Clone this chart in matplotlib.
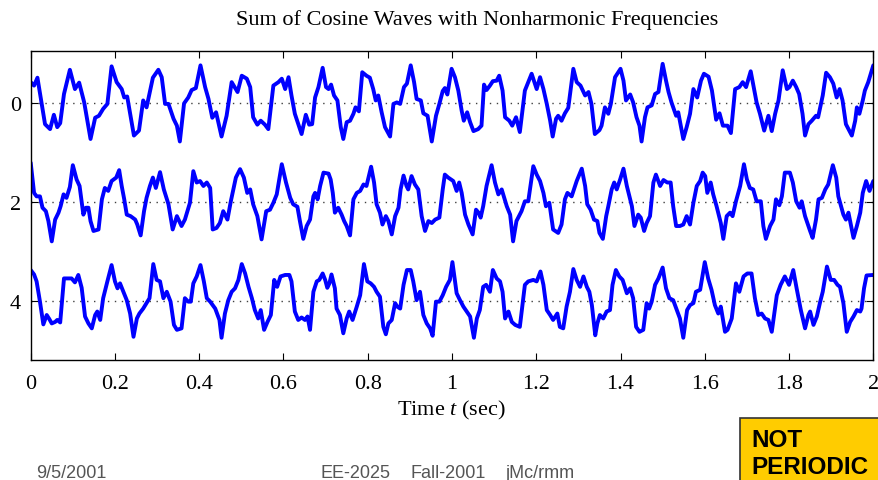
import numpy as np
import matplotlib
matplotlib.use("Agg")
import matplotlib.pyplot as plt
from matplotlib.patches import Rectangle

# --- text ---
title = "Sum of Cosine Waves with Nonharmonic Frequencies"
x_label = "Time $t$ (sec)"
footer_date = "9/5/2001"
footer_parts = ["EE-2025", "Fall-2001", "jMc/rmm"]
badge_lines = ["NOT", "PERIODIC"]

# --- axes ---
row_offsets = [0, 2, 4]
y_ticks = [0, 2, 4]
x_ticks = [0, 0.2, 0.4, 0.6, 0.8, 1.0, 1.2, 1.4, 1.6, 1.8, 2.0]
x_tick_labels = ["0", "0.2", "0.4", "0.6", "0.8", "1", "1.2", "1.4", "1.6", "1.8", "2"]

# --- strips: (time in s, signal value, up = positive) ---
row0 = [
    (0.000, 0.42), (0.008, 0.35), (0.016, 0.51), (0.026, -0.02), (0.034, -0.43), (0.046, -0.53),
    (0.055, -0.24), (0.063, -0.49), (0.070, -0.41), (0.079, 0.18), (0.093, 0.67), (0.105, 0.28),
    (0.115, 0.41), (0.127, 0.01), (0.142, -0.73), (0.153, -0.30), (0.162, -0.26), (0.172, -0.12),
    (0.182, -0.02), (0.192, 0.74), (0.204, 0.42), (0.216, 0.28), (0.222, 0.11), (0.229, 0.13),
    (0.237, -0.26), (0.245, -0.66), (0.257, -0.56), (0.267, 0.05), (0.275, -0.09), (0.290, 0.51),
    (0.303, 0.67), (0.311, 0.52), (0.319, -0.02), (0.327, -0.02), (0.339, -0.32), (0.347, -0.46),
    (0.354, -0.78), (0.364, -0.01), (0.374, 0.11), (0.382, 0.26), (0.392, 0.30), (0.403, 0.76),
    (0.414, 0.32), (0.422, 0.08), (0.431, -0.30), (0.440, -0.19), (0.453, -0.68), (0.465, -0.26),
    (0.477, 0.42), (0.491, 0.22), (0.501, 0.55), (0.513, 0.49), (0.521, 0.32), (0.528, -0.29),
    (0.538, -0.44), (0.546, -0.36), (0.556, -0.44), (0.564, -0.53), (0.576, 0.35), (0.588, 0.42),
    (0.596, 0.49), (0.604, 0.28), (0.612, 0.52), (0.619, 0.15), (0.627, -0.22), (0.643, -0.63),
    (0.653, -0.24), (0.661, -0.44), (0.668, -0.43),
    (0.675, 0.11), (0.683, 0.32), (0.693, 0.71), (0.701, 0.32), (0.707, 0.28), (0.713, 0.37),
    (0.720, 0.15), (0.728, 0.05), (0.736, -0.49), (0.742, -0.73), (0.750, -0.39), (0.758, -0.36),
    (0.766, -0.22), (0.771, -0.09), (0.779, -0.17), (0.787, 0.62), (0.797, 0.55), (0.805, 0.51),
    (0.813, 0.28), (0.819, 0.05), (0.825, 0.15), (0.833, -0.19), (0.841, -0.49), (0.853, -0.68),
    (0.861, -0.02), (0.869, 0.01), (0.877, -0.02), (0.886, 0.32), (0.893, 0.39), (0.902, 0.76),
    (0.910, 0.42), (0.916, 0.08), (0.926, 0.05), (0.932, -0.21), (0.942, -0.26), (0.952, -0.78),
    (0.962, -0.26), (0.970, -0.02), (0.978, 0.24), (0.983, 0.30), (0.989, 0.17), (0.999, 0.69),
    (1.007, 0.52), (1.015, 0.25), (1.023, -0.16), (1.028, -0.36), (1.036, -0.19), (1.043, -0.39),
    (1.051, -0.57), (1.062, -0.53), (1.070, -0.46), (1.076, 0.37), (1.082, 0.26), (1.090, 0.35),
    (1.097, 0.44), (1.106, 0.45), (1.112, 0.55), (1.120, 0.25), (1.126, -0.29), (1.136, -0.36),
    (1.143, -0.46), (1.152, -0.29), (1.161, -0.59), (1.173, 0.25), (1.181, 0.42), (1.189, 0.59),
    (1.201, 0.28), (1.209, 0.52), (1.217, 0.28), (1.225, -0.02), (1.233, -0.36), (1.239, -0.68),
    (1.247, -0.32), (1.252, -0.26), (1.260, -0.36), (1.268, -0.21), (1.276, -0.10), (1.288, 0.69),
    (1.296, 0.42), (1.305, 0.35), (1.316, 0.15), (1.324, 0.22), (1.331, -0.02), (1.339, -0.63),
    (1.350, -0.55),
    (1.355, -0.46), (1.363, -0.09), (1.371, -0.22), (1.377, -0.02), (1.387, 0.52), (1.400, 0.69),
    (1.407, 0.45), (1.413, 0.05), (1.423, 0.17), (1.430, 0.01), (1.438, -0.29), (1.445, -0.46),
    (1.450, -0.78), (1.458, -0.29), (1.464, -0.09), (1.474, -0.05), (1.482, 0.18), (1.490, 0.22),
    (1.500, 0.79), (1.508, 0.45), (1.514, 0.22), (1.521, 0.01), (1.532, -0.26), (1.537, -0.19),
    (1.549, -0.73), (1.557, -0.49), (1.565, -0.22), (1.573, 0.28), (1.582, 0.11), (1.591, 0.45),
    (1.598, 0.59), (1.609, 0.53), (1.617, 0.25), (1.627, -0.34), (1.635, -0.21), (1.643, -0.46),
    (1.654, -0.46), (1.662, -0.61), (1.672, 0.28), (1.682, 0.32), (1.690, 0.42), (1.698, 0.32),
    (1.709, 0.64), (1.717, 0.28), (1.723, 0.01), (1.731, -0.22), (1.741, -0.56), (1.751, -0.26),
    (1.759, -0.57), (1.767, -0.22), (1.775, 0.05), (1.785, 0.66), (1.795, 0.28), (1.801, 0.32),
    (1.809, 0.45), (1.817, 0.32), (1.824, 0.18), (1.832, -0.22), (1.838, -0.66), (1.846, -0.43),
    (1.854, -0.36), (1.864, -0.26), (1.869, -0.29), (1.880, 0.15), (1.888, 0.61), (1.897, 0.52),
    (1.905, 0.39), (1.913, 0.11), (1.920, 0.28), (1.927, 0.05), (1.935, -0.43), (1.949, -0.66),
    (1.957, -0.36), (1.961, -0.09), (1.967, -0.22), (1.975, 0.05), (1.980, 0.25), (1.988, 0.42),
    (2.000, 0.76),
]

row1 = [
    (0.000, 0.79), (0.008, 0.18), (0.014, 0.11), (0.022, 0.11), (0.028, -0.12), (0.036, -0.19),
    (0.042, -0.39), (0.050, -0.80), (0.058, -0.36), (0.066, -0.22), (0.071, -0.09), (0.078, 0.15),
    (0.085, 0.08), (0.093, 0.30), (0.100, 0.74), (0.109, 0.45), (0.116, 0.32), (0.125, -0.26),
    (0.131, -0.12), (0.137, -0.12), (0.142, -0.39), (0.149, -0.59), (0.161, -0.56), (0.169, 0.05),
    (0.176, 0.28), (0.184, 0.22), (0.192, 0.42), (0.203, 0.49), (0.210, 0.64), (0.216, 0.32),
    (0.222, 0.05), (0.228, -0.26), (0.237, -0.29), (0.248, -0.36), (0.253, -0.46), (0.261, -0.68),
    (0.269, -0.19), (0.275, 0.08), (0.283, 0.32), (0.290, 0.49), (0.297, 0.28), (0.307, 0.60),
    (0.316, 0.25), (0.327, -0.05), (0.337, -0.56), (0.347, -0.29), (0.358, -0.49), (0.366, -0.36),
    (0.378, -0.02), (0.386, 0.62), (0.394, 0.39), (0.402, 0.42), (0.410, 0.32), (0.418, 0.39),
    (0.426, 0.28), (0.432, -0.56), (0.441, -0.53), (0.449, -0.43), (0.457, -0.19), (0.467, -0.36),
    (0.475, 0.01), (0.487, 0.49), (0.497, 0.66), (0.506, 0.49), (0.514, 0.18), (0.521, 0.25),
    (0.528, -0.05), (0.538, -0.29), (0.548, -0.76), (0.559, -0.19), (0.568, -0.16), (0.576, -0.02),
    (0.584, 0.15), (0.596, 0.76), (0.606, 0.39), (0.616, 0.08), (0.623, -0.05), (0.633, -0.10),
    (0.639, -0.39), (0.647, -0.75), (0.655, -0.49), (0.663, -0.36), (0.671, 0.11),
    (0.675, 0.18), (0.681, 0.05), (0.687, 0.32), (0.695, 0.59), (0.707, 0.57), (0.712, 0.45),
    (0.717, 0.18), (0.722, -0.22), (0.730, -0.12), (0.738, -0.26), (0.744, -0.39), (0.750, -0.49),
    (0.758, -0.68), (0.766, 0.05), (0.774, 0.18), (0.782, 0.22), (0.790, 0.35), (0.797, 0.32),
    (0.808, 0.71), (0.815, 0.39), (0.821, -0.05), (0.829, -0.22), (0.835, -0.46), (0.843, -0.29),
    (0.849, -0.39), (0.857, -0.66), (0.865, -0.29), (0.873, -0.12), (0.878, 0.25), (0.885, 0.53),
    (0.892, 0.32), (0.896, 0.25), (0.904, 0.52), (0.912, 0.35), (0.920, 0.25), (0.928, -0.29),
    (0.936, -0.59), (0.944, -0.39), (0.952, -0.43), (0.960, -0.36), (0.970, -0.32), (0.978, 0.25),
    (0.983, 0.55), (0.991, 0.49), (1.003, 0.42), (1.011, 0.22), (1.017, 0.39), (1.023, 0.18),
    (1.031, -0.26), (1.039, -0.46), (1.049, -0.66), (1.057, -0.16), (1.063, -0.22), (1.068, -0.32),
    (1.074, -0.09), (1.082, 0.32), (1.094, 0.74), (1.102, 0.39), (1.110, 0.15), (1.118, 0.25),
    (1.130, -0.09), (1.138, -0.26), (1.145, -0.80), (1.153, -0.39), (1.165, -0.19), (1.173, 0.01),
    (1.181, 0.01), (1.193, 0.72), (1.201, 0.55), (1.209, 0.42), (1.217, 0.18), (1.223, -0.09),
    (1.231, -0.02), (1.240, -0.56), (1.252, -0.63), (1.260, -0.46), (1.268, 0.05), (1.274, 0.18),
    (1.284, 0.11), (1.296, 0.42), (1.308, 0.67), (1.316, 0.32), (1.321, -0.05), (1.329, -0.16),
    (1.337, -0.36), (1.345, -0.39), (1.350, -0.63),
    (1.358, -0.75), (1.366, -0.29), (1.371, -0.09), (1.379, 0.25), (1.385, 0.39), (1.391, 0.25),
    (1.399, 0.45), (1.407, 0.67), (1.415, 0.32), (1.423, 0.05), (1.427, -0.09), (1.433, -0.49),
    (1.442, -0.26), (1.448, -0.32), (1.456, -0.59), (1.462, -0.43), (1.470, -0.29), (1.478, 0.39),
    (1.484, 0.55), (1.494, 0.32), (1.502, 0.44), (1.511, 0.39), (1.519, 0.39), (1.525, -0.09),
    (1.532, -0.49), (1.541, -0.49), (1.549, -0.46), (1.557, -0.29), (1.565, -0.46), (1.573, -0.02),
    (1.581, 0.32), (1.589, 0.42), (1.595, 0.59), (1.601, 0.52), (1.606, 0.18), (1.614, 0.39),
    (1.620, 0.15), (1.628, -0.09), (1.638, -0.43), (1.644, -0.75), (1.652, -0.29), (1.660, -0.22),
    (1.666, -0.29), (1.674, 0.01), (1.684, 0.32), (1.693, 0.76), (1.700, 0.45), (1.707, 0.28),
    (1.715, 0.25), (1.723, 0.01), (1.733, 0.01), (1.739, -0.49), (1.745, -0.75), (1.755, -0.49),
    (1.763, -0.36), (1.769, 0.05), (1.777, -0.07), (1.783, 0.11), (1.790, 0.59), (1.802, 0.59),
    (1.809, 0.39), (1.817, 0.01), (1.825, -0.12), (1.830, 0.01), (1.838, -0.29), (1.850, -0.59),
    (1.856, -0.73), (1.864, -0.36), (1.870, 0.05), (1.878, 0.08), (1.886, 0.25), (1.893, 0.35),
    (1.904, 0.74), (1.912, 0.49), (1.917, 0.11), (1.929, -0.26), (1.935, -0.36), (1.941, -0.22),
    (1.953, -0.73), (1.961, -0.49), (1.969, -0.22), (1.975, 0.18), (1.983, 0.42), (1.991, 0.22),
    (2.000, 0.42),
]

row2 = [
    (0.000, 0.62), (0.008, 0.53), (0.014, 0.39), (0.022, -0.02), (0.030, -0.48), (0.038, -0.29),
    (0.044, -0.37), (0.050, -0.46), (0.058, -0.43), (0.063, -0.39), (0.070, -0.44), (0.079, 0.45),
    (0.089, 0.45), (0.097, 0.45), (0.105, 0.37), (0.113, 0.52), (0.121, 0.26), (0.129, -0.32),
    (0.137, -0.46), (0.145, -0.56), (0.153, -0.29), (0.158, -0.22), (0.165, -0.39), (0.172, 0.05),
    (0.182, 0.39), (0.192, 0.72), (0.200, 0.39), (0.206, 0.25), (0.212, 0.35), (0.220, 0.18),
    (0.228, 0.01), (0.236, -0.26), (0.244, -0.73), (0.252, -0.36), (0.258, -0.26), (0.267, -0.16),
    (0.275, -0.05), (0.282, 0.05), (0.291, 0.74), (0.299, 0.42), (0.307, 0.39), (0.315, 0.05),
    (0.323, 0.18), (0.332, -0.02), (0.340, -0.49), (0.347, -0.59), (0.358, -0.56), (0.366, 0.05),
    (0.374, -0.02), (0.380, -0.02), (0.386, 0.35), (0.394, 0.49), (0.403, 0.72), (0.411, 0.39),
    (0.418, 0.05), (0.426, -0.02), (0.438, -0.16), (0.448, -0.39), (0.453, -0.75), (0.461, -0.26),
    (0.469, 0.01), (0.477, 0.18), (0.485, 0.25), (0.493, 0.42), (0.501, 0.74), (0.509, 0.55),
    (0.517, 0.28), (0.525, 0.05), (0.532, -0.19), (0.540, -0.36), (0.546, -0.19), (0.554, -0.59),
    (0.562, -0.43), (0.570, -0.29), (0.578, 0.42), (0.585, 0.28), (0.593, 0.49), (0.604, 0.52),
    (0.614, 0.52), (0.619, 0.39), (0.627, -0.22), (0.635, -0.39), (0.643, -0.34), (0.651, -0.39),
    (0.657, -0.32), (0.663, -0.59), (0.671, 0.18), (0.679, 0.39),
    (0.685, 0.42), (0.693, 0.55), (0.699, 0.42), (0.704, 0.26), (0.709, 0.35), (0.714, 0.53),
    (0.722, 0.25), (0.726, -0.16), (0.734, -0.29), (0.742, -0.66), (0.750, -0.36), (0.756, -0.22),
    (0.764, -0.39), (0.774, -0.12), (0.782, 0.11), (0.791, 0.74), (0.799, 0.39), (0.807, 0.35),
    (0.815, 0.28), (0.821, 0.18), (0.829, 0.08), (0.837, -0.53), (0.843, -0.68), (0.849, -0.46),
    (0.857, -0.39), (0.865, -0.05), (0.870, -0.12), (0.877, -0.16), (0.885, 0.32), (0.893, 0.62),
    (0.902, 0.62), (0.908, 0.39), (0.916, 0.01), (0.924, 0.18), (0.932, -0.29), (0.940, -0.46),
    (0.948, -0.56), (0.954, -0.71), (0.962, -0.02), (0.970, -0.02), (0.978, 0.11), (0.986, 0.28),
    (0.995, 0.42), (1.001, 0.78), (1.011, 0.15), (1.019, 0.01), (1.027, -0.12), (1.035, -0.22),
    (1.043, -0.32), (1.052, -0.75), (1.059, -0.36), (1.066, -0.19), (1.074, 0.28), (1.081, 0.32),
    (1.090, 0.18), (1.097, 0.62), (1.106, 0.45), (1.114, 0.39), (1.120, 0.18), (1.126, -0.36),
    (1.134, -0.22), (1.142, -0.43), (1.150, -0.49), (1.161, -0.53), (1.173, 0.32), (1.181, 0.39),
    (1.193, 0.42), (1.201, 0.39), (1.210, 0.59), (1.217, 0.32), (1.225, -0.19), (1.233, -0.29),
    (1.240, -0.39), (1.250, -0.26), (1.256, -0.53), (1.264, -0.56), (1.272, -0.12), (1.280, 0.18),
    (1.288, 0.64), (1.296, 0.42), (1.304, 0.28), (1.312, 0.49), (1.320, 0.28), (1.326, 0.18),
    (1.332, -0.09), (1.340, -0.70), (1.345, -0.46),
    (1.351, -0.29), (1.359, -0.36), (1.367, -0.22), (1.375, -0.19), (1.381, 0.32), (1.389, 0.62),
    (1.397, 0.49), (1.405, 0.42), (1.415, 0.15), (1.423, 0.25), (1.430, 0.05), (1.437, -0.53),
    (1.445, -0.63), (1.454, -0.59), (1.462, -0.05), (1.468, -0.16), (1.474, -0.02), (1.482, 0.32),
    (1.490, 0.45), (1.500, 0.67), (1.508, 0.25), (1.516, 0.05), (1.525, 0.01), (1.535, -0.22),
    (1.541, -0.36), (1.549, -0.75), (1.558, -0.19), (1.565, -0.09), (1.573, -0.05), (1.579, 0.18),
    (1.589, 0.22), (1.600, 0.78), (1.608, 0.45), (1.616, 0.22), (1.624, -0.09), (1.632, -0.26),
    (1.638, -0.12), (1.648, -0.63), (1.654, -0.59), (1.664, -0.36), (1.674, 0.35), (1.682, 0.18),
    (1.692, 0.49), (1.701, 0.55), (1.711, 0.55), (1.719, 0.05), (1.727, -0.29), (1.735, -0.26),
    (1.743, -0.36), (1.751, -0.39), (1.759, -0.63), (1.771, 0.11), (1.780, 0.32), (1.790, 0.49),
    (1.800, 0.32), (1.810, 0.62), (1.818, 0.25), (1.828, -0.19), (1.838, -0.56), (1.846, -0.29),
    (1.850, -0.22), (1.858, -0.49), (1.866, -0.32), (1.874, -0.02), (1.880, 0.18), (1.890, 0.69),
    (1.899, 0.42), (1.907, 0.42), (1.915, 0.32), (1.921, 0.28), (1.929, -0.05), (1.937, -0.63),
    (1.945, -0.43), (1.953, -0.32), (1.961, -0.19), (1.969, -0.22), (1.972, -0.16), (1.978, 0.25),
    (1.984, 0.51), (2.000, 0.52),
]

rows = [row0, row1, row2]

# fonts: Times-like for the plot, Arial-like for the slide footer
plt.rcParams['font.family'] = 'Liberation Serif'
plt.rcParams['mathtext.fontset'] = 'custom'
plt.rcParams['mathtext.rm'] = 'Liberation Serif'
plt.rcParams['mathtext.it'] = 'Liberation Serif:italic'

W, H = 879, 481
fig = plt.figure(figsize=(W / 100, H / 100), dpi=100)
ax = fig.add_axes([30.7 / W, 1 - 361 / H, (873.3 - 30.7) / W, (361 - 52) / H])

for off, row in zip(row_offsets, rows):
    arr = np.array(row)
    ax.axhline(off, color='0.25', ls=(0, (1, 4)), lw=1.0, zorder=1)
    ax.plot(arr[:, 0], off - arr[:, 1], color=(0, 0, 1), lw=2.8,
            solid_joinstyle='round', solid_capstyle='round', zorder=2)

ax.set_xlim(0, 2)
ax.set_ylim(5.2, -1.05)
ax.set_xticks(x_ticks)
ax.set_xticklabels(x_tick_labels)
ax.set_yticks(y_ticks)
ax.tick_params(direction='in', length=5, width=0.8, top=True, right=True, labelsize=16)
ax.tick_params(axis='x', pad=10)
ax.tick_params(axis='y', pad=7)
for sp in ax.spines.values():
    sp.set_linewidth(1.0)

fig.text(477 / W, 1 - 20 / H, title, fontsize=16, ha='center', va='center')
fig.text(451 / W, 1 - 410 / H, x_label, fontsize=16, ha='center', va='center')

# slide footer (sits right on the bottom edge, as on the slide)
grey = '#555555'
fig.text(36 / W, 3 / H, footer_date, fontsize=13, color=grey, family='Liberation Sans', va='baseline')
for xp, s in zip([321, 411, 505], footer_parts):
    fig.text(xp / W, 3 / H, s, fontsize=13, color=grey, family='Liberation Sans', va='baseline')

# yellow badge
fig.patches.append(Rectangle((740 / W, -0.02), 0.2, (481 - 419) / H + 0.02, transform=fig.transFigure,
                             facecolor='#FFCC00', edgecolor='#333333', lw=1.2, zorder=0))
fig.text(751 / W, 1 - 447 / H, badge_lines[0], fontsize=17.5, fontweight='bold', family='Liberation Sans', va='baseline')
fig.text(751 / W, 1 - 474 / H, badge_lines[1], fontsize=17.5, fontweight='bold', family='Liberation Sans', va='baseline')

fig.savefig('out.png', dpi=100)
